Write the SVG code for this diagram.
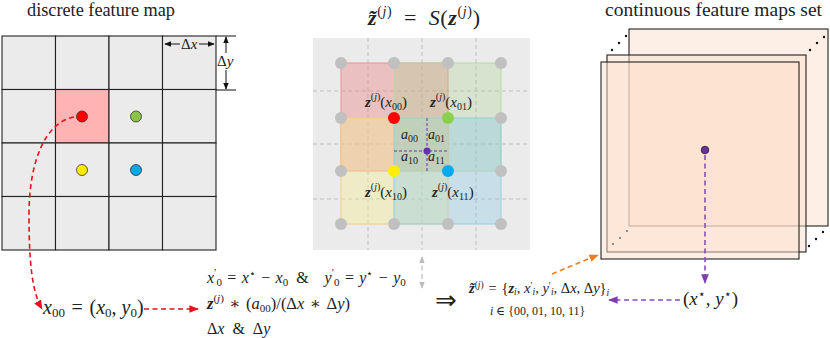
<svg xmlns="http://www.w3.org/2000/svg" width="830" height="338" viewBox="0 0 830 338">
<style>
.t{font-family:"Liberation Serif","DejaVu Serif",serif;font-size:18px;fill:#222}
.m{font-family:"Liberation Serif","DejaVu Serif",serif;font-style:italic;fill:#222}
.r{font-style:normal}
.b{font-weight:bold}
.cell{fill:#ebebeb;stroke:#222;stroke-width:1.1}
.gd{fill:#c0c0c0}
.gl{stroke:#b4b4b4;stroke-width:0.8;stroke-dasharray:4 3;fill:none}
.map{fill:#fbe0cc;fill-opacity:0.5;stroke:#222;stroke-width:1.1}
.dot{fill:#111}
</style>
<defs>
<marker id="ab" viewBox="0 0 10 10" refX="9" refY="5" markerWidth="7" markerHeight="7" orient="auto-start-reverse"><path d="M0 1 L10 5 L0 9 z" fill="#111"/></marker>
<marker id="ar" viewBox="0 0 10 10" refX="9" refY="5" markerWidth="6" markerHeight="6" orient="auto"><path d="M0 1 L10 5 L0 9 z" fill="#e8101a"/></marker>
<marker id="ap" viewBox="0 0 10 10" refX="9" refY="5" markerWidth="6" markerHeight="6" orient="auto"><path d="M0 1 L10 5 L0 9 z" fill="#7b3fb0"/></marker>
<marker id="ao" viewBox="0 0 10 10" refX="9" refY="5" markerWidth="6" markerHeight="6" orient="auto"><path d="M0 1 L10 5 L0 9 z" fill="#f07e1e"/></marker>
<marker id="ag" viewBox="0 0 10 10" refX="9" refY="5" markerWidth="6" markerHeight="6" orient="auto-start-reverse"><path d="M0 1 L10 5 L0 9 z" fill="#bbb"/></marker>
</defs>

<g id="discrete-map">
<text class="t" x="27" y="16" textLength="148" lengthAdjust="spacingAndGlyphs">discrete feature map</text>
<g>
<rect class="cell" x="2" y="36" width="53.5" height="53.5"/><rect class="cell" x="55.5" y="36" width="53.5" height="53.5"/><rect class="cell" x="109" y="36" width="53.5" height="53.5"/><rect class="cell" x="162.5" y="36" width="53.5" height="53.5"/>
<rect class="cell" x="2" y="89.5" width="53.5" height="53.5"/><rect class="cell" x="55.5" y="89.5" width="53.5" height="53.5" style="fill:#ffb3b3"/><rect class="cell" x="109" y="89.5" width="53.5" height="53.5"/><rect class="cell" x="162.5" y="89.5" width="53.5" height="53.5"/>
<rect class="cell" x="2" y="143" width="53.5" height="53.5"/><rect class="cell" x="55.5" y="143" width="53.5" height="53.5"/><rect class="cell" x="109" y="143" width="53.5" height="53.5"/><rect class="cell" x="162.5" y="143" width="53.5" height="53.5"/>
<rect class="cell" x="2" y="196.5" width="53.5" height="53.5"/><rect class="cell" x="55.5" y="196.5" width="53.5" height="53.5"/><rect class="cell" x="109" y="196.5" width="53.5" height="53.5"/><rect class="cell" x="162.5" y="196.5" width="53.5" height="53.5"/>
</g>
<circle cx="82" cy="116.5" r="5.5" fill="#f00" stroke="#333" stroke-width="0.8"/>
<circle cx="136" cy="116.5" r="5.5" fill="#8bc34a" stroke="#333" stroke-width="0.8"/>
<circle cx="82" cy="170" r="5.5" fill="#ffeb00" stroke="#333" stroke-width="0.8"/>
<circle cx="136" cy="170" r="5.5" fill="#00a8e8" stroke="#333" stroke-width="0.8"/>
<line x1="180" y1="44" x2="165" y2="44" stroke="#111" stroke-width="1" marker-end="url(#ab)"/>
<line x1="199" y1="44" x2="214" y2="44" stroke="#111" stroke-width="1" marker-end="url(#ab)"/>
<text class="m" x="181" y="49" font-size="15"><tspan class="r">Δ</tspan>x</text>
<line x1="216" y1="36" x2="236" y2="36" stroke="#111" stroke-width="1"/>
<line x1="216" y1="90" x2="236" y2="90" stroke="#111" stroke-width="1"/>
<line x1="226" y1="53" x2="226" y2="37" stroke="#111" stroke-width="1" marker-end="url(#ab)"/>
<line x1="226" y1="70" x2="226" y2="89" stroke="#111" stroke-width="1" marker-end="url(#ab)"/>
<text class="m" x="217" y="66" font-size="15"><tspan class="r">Δ</tspan>y</text>
</g>

<g id="sampling-panel">
<text class="m" x="368" y="25" font-size="22" textLength="112" lengthAdjust="spacing"><tspan class="b">z̃</tspan><tspan dy="-9" font-size="14" class="r">(</tspan><tspan font-size="14">j</tspan><tspan font-size="14" class="r">)</tspan><tspan dy="9" class="r">&#8194;=&#8194;</tspan>S<tspan class="r">(</tspan><tspan class="b">z</tspan><tspan dy="-9" font-size="14" class="r">(</tspan><tspan font-size="14">j</tspan><tspan font-size="14" class="r">)</tspan><tspan dy="9" class="r">)</tspan></text>
<rect x="313" y="38" width="217" height="212" fill="#ebebeb"/>
<g class="gl">
<line x1="368" y1="38" x2="368" y2="250"/><line x1="422" y1="38" x2="422" y2="250"/><line x1="476" y1="38" x2="476" y2="250"/>
<line x1="313" y1="91" x2="530" y2="91"/><line x1="313" y1="144" x2="530" y2="144"/><line x1="313" y1="199" x2="530" y2="199"/>
</g>
<rect x="341" y="63" width="107" height="108" fill="#e88080" fill-opacity="0.4" stroke="#f09090" stroke-width="1"/>
<rect x="394" y="63" width="107" height="108" fill="#a9cf8a" fill-opacity="0.3" stroke="#b8dca0" stroke-width="1"/>
<rect x="341" y="118" width="107" height="106" fill="#f3ee90" fill-opacity="0.4" stroke="#f5d080" stroke-width="1"/>
<rect x="394" y="118" width="107" height="106" fill="#86c8e8" fill-opacity="0.35" stroke="#90d0e0" stroke-width="1"/>
<g class="gd">
<circle cx="341" cy="63" r="6"/><circle cx="394" cy="63" r="6"/><circle cx="448" cy="63" r="6"/><circle cx="501" cy="63" r="6"/>
<circle cx="341" cy="118" r="6"/><circle cx="501" cy="118" r="6"/>
<circle cx="341" cy="171" r="6"/><circle cx="501" cy="171" r="6"/>
<circle cx="341" cy="224" r="6"/><circle cx="394" cy="224" r="6"/><circle cx="448" cy="224" r="6"/><circle cx="501" cy="224" r="6"/>
</g>
<circle cx="394" cy="118" r="6" fill="#f00"/>
<circle cx="448" cy="118" r="6" fill="#8bd04a"/>
<circle cx="394" cy="171" r="6" fill="#ffee00"/>
<circle cx="448" cy="171" r="6" fill="#00aaee"/>
<line x1="427" y1="118" x2="427" y2="171" stroke="#6a2fb0" stroke-width="1" stroke-dasharray="3 2"/>
<line x1="394" y1="151" x2="448" y2="151" stroke="#6a2fb0" stroke-width="1" stroke-dasharray="3 2"/>
<circle cx="427" cy="151" r="3.5" fill="#6a2fb0"/>
<text class="m" x="365" y="107" font-size="15"><tspan class="b">z</tspan><tspan dy="-7" font-size="10" class="r">(</tspan><tspan font-size="10">j</tspan><tspan font-size="10" class="r">)</tspan><tspan dy="7" class="r">(</tspan>x<tspan dy="3" font-size="10" class="r">00</tspan><tspan dy="-3" class="r">)</tspan></text>
<text class="m" x="430" y="107" font-size="15"><tspan class="b">z</tspan><tspan dy="-7" font-size="10" class="r">(</tspan><tspan font-size="10">j</tspan><tspan font-size="10" class="r">)</tspan><tspan dy="7" class="r">(</tspan>x<tspan dy="3" font-size="10" class="r">01</tspan><tspan dy="-3" class="r">)</tspan></text>
<text class="m" x="365" y="197" font-size="15"><tspan class="b">z</tspan><tspan dy="-7" font-size="10" class="r">(</tspan><tspan font-size="10">j</tspan><tspan font-size="10" class="r">)</tspan><tspan dy="7" class="r">(</tspan>x<tspan dy="3" font-size="10" class="r">10</tspan><tspan dy="-3" class="r">)</tspan></text>
<text class="m" x="432" y="197" font-size="15"><tspan class="b">z</tspan><tspan dy="-7" font-size="10" class="r">(</tspan><tspan font-size="10">j</tspan><tspan font-size="10" class="r">)</tspan><tspan dy="7" class="r">(</tspan>x<tspan dy="3" font-size="10" class="r">11</tspan><tspan dy="-3" class="r">)</tspan></text>
<text class="m" x="401" y="139" font-size="14">a<tspan dy="3" font-size="10" class="r">00</tspan></text>
<text class="m" x="428" y="139" font-size="14">a<tspan dy="3" font-size="10" class="r">01</tspan></text>
<text class="m" x="401" y="161" font-size="14">a<tspan dy="3" font-size="10" class="r">10</tspan></text>
<text class="m" x="428" y="161" font-size="14">a<tspan dy="3" font-size="10" class="r">11</tspan></text>
</g>

<g id="continuous-maps">
<text class="t" x="605" y="16" textLength="217" lengthAdjust="spacingAndGlyphs">continuous feature maps set</text>
<rect class="map" x="629" y="29" width="199" height="197"/>
<rect class="map" x="607" y="55" width="199" height="197"/>
<rect class="map" x="601" y="62" width="198" height="197"/>
<g class="dot">
<circle cx="612" cy="50" r="1.2"/><circle cx="619" cy="43" r="1.2"/><circle cx="626" cy="36" r="1.2"/>
<circle cx="810" cy="50" r="1.2"/><circle cx="817" cy="43" r="1.2"/><circle cx="824" cy="37" r="1.2"/>
<circle cx="613" cy="244" r="1.1" fill="#777"/><circle cx="620" cy="238" r="1.1" fill="#777"/><circle cx="627" cy="231" r="1.1" fill="#777"/>
<circle cx="809" cy="246" r="1.2"/><circle cx="816" cy="239" r="1.2"/><circle cx="823" cy="232" r="1.2"/>
</g>
<circle cx="705" cy="150" r="3.8" fill="#6a2fa0" stroke="#222" stroke-width="0.8"/>
</g>

<g id="formulas">
<text class="m" x="207" y="283" font-size="16">x<tspan dy="-7" font-size="11" class="r">′</tspan><tspan dy="10" font-size="11" class="r">0</tspan><tspan dy="-3" class="r">&#8196;=&#8196;</tspan>x<tspan dy="-6" font-size="11" class="r">⋆</tspan><tspan dy="6" class="r">&#8196;−&#8196;</tspan>x<tspan dy="3" font-size="11" class="r">0</tspan><tspan dy="-3" class="r">&#8194;&amp;&#8194;&#8194;</tspan>y<tspan dy="-7" font-size="11" class="r">′</tspan><tspan dy="10" font-size="11" class="r">0</tspan><tspan dy="-3" class="r">&#8196;=&#8196;</tspan>y<tspan dy="-6" font-size="11" class="r">⋆</tspan><tspan dy="6" class="r">&#8196;−&#8196;</tspan>y<tspan dy="3" font-size="11" class="r">0</tspan></text>
<text class="m" x="207" y="309" font-size="16.5"><tspan class="b">z</tspan><tspan dy="-7" font-size="11" class="r">(</tspan><tspan font-size="11">j</tspan><tspan font-size="11" class="r">)</tspan><tspan dy="7" class="r">&#8196;∗&#8196;(</tspan>a<tspan dy="3" font-size="11" class="r">00</tspan><tspan dy="-3" class="r">)/(Δ</tspan>x<tspan class="r">&#8196;∗&#8196;Δ</tspan>y<tspan class="r">)</tspan></text>
<text class="m" x="207" y="334" font-size="16"><tspan class="r">Δ</tspan>x<tspan class="r">&#8194;&amp;&#8194;Δ</tspan>y</text>
<text class="m" x="43" y="314" font-size="20">x<tspan dy="3" font-size="13" class="r">00</tspan><tspan dy="-3" class="r">&#8196;=&#8196;(</tspan>x<tspan dy="3" font-size="13" class="r">0</tspan><tspan dy="-3" class="r">, </tspan>y<tspan dy="3" font-size="13" class="r">0</tspan><tspan dy="-3" class="r">)</tspan></text>
<text x="435" y="309" font-size="26" font-family="DejaVu Sans, sans-serif" fill="#222">⇒</text>
<text class="m" x="469" y="293" font-size="14.5"><tspan class="b">z̃</tspan><tspan dy="-5" font-size="9.5" class="r">(</tspan><tspan font-size="9.5">j</tspan><tspan font-size="9.5" class="r">)</tspan><tspan dy="5" class="r">&#8196;=&#8196;{</tspan><tspan class="b">z</tspan><tspan dy="2" font-size="9.5">i</tspan><tspan dy="-2" class="r">, </tspan>x<tspan dy="-4" font-size="9.5" class="r">′</tspan><tspan dy="6" font-size="9.5">i</tspan><tspan dy="-2" class="r">, </tspan>y<tspan dy="-4" font-size="9.5" class="r">′</tspan><tspan dy="6" font-size="9.5">i</tspan><tspan dy="-2" class="r">, Δ</tspan>x<tspan class="r">, Δ</tspan>y<tspan class="r">}</tspan><tspan dy="3" font-size="9.5">i</tspan></text>
<text class="m" x="490" y="315" font-size="12">i<tspan class="r"> ∈ {00, 01, 10, 11}</tspan></text>
<text class="m" x="683" y="305" font-size="19"><tspan class="r">(</tspan>x<tspan dy="-7" font-size="12" class="r">⋆</tspan><tspan dy="7" class="r">, </tspan>y<tspan dy="-7" font-size="12" class="r">⋆</tspan><tspan dy="7" class="r">)</tspan></text>
</g>

<g id="connectors" fill="none" stroke-width="1.6" stroke-dasharray="5 3.5">
<path d="M74 117 C46 122 29 160 29 215 C29 262 32 292 42 309" stroke="#e8101a" marker-end="url(#ar)"/>
<line x1="144" y1="309" x2="198" y2="309" stroke="#e8101a" marker-end="url(#ar)"/>
<line x1="705" y1="155" x2="705" y2="283" stroke="#8a4cc0" marker-end="url(#ap)"/>
<line x1="680" y1="300" x2="609" y2="300" stroke="#8a4cc0" marker-end="url(#ap)"/>
<line x1="552" y1="274" x2="598" y2="255" stroke="#f07e1e" marker-end="url(#ao)"/>
<line x1="422" y1="257" x2="422" y2="288" stroke="#bbb" stroke-width="1.2" marker-start="url(#ag)" marker-end="url(#ag)"/>
</g>
</svg>
